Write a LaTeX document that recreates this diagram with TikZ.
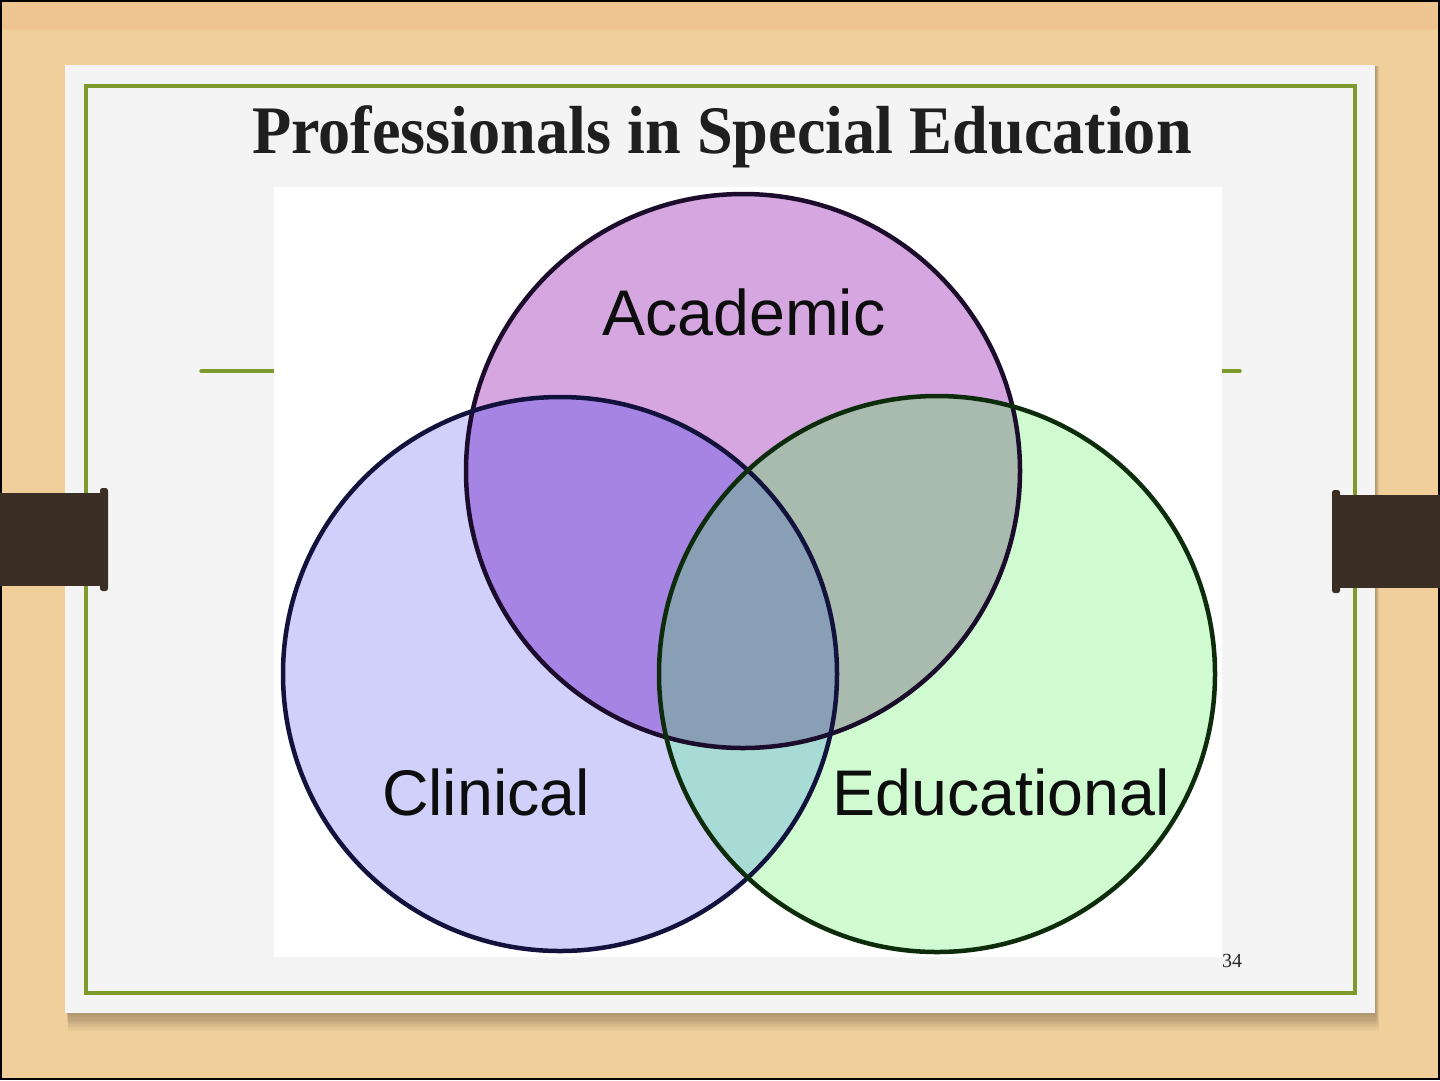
\documentclass[tikz,border=0pt]{standalone}
\usepackage{fontspec}
\setmainfont{Liberation Serif}
\newfontfamily\vennfont{Liberation Sans}
\usetikzlibrary{positioning}
\definecolor{wood}{HTML}{F0CF9B}
\definecolor{woodtop}{HTML}{EEC590}
\definecolor{slidegray}{HTML}{F4F4F4}
\definecolor{framegreen}{HTML}{7E9A2C}
\definecolor{tabbrown}{HTML}{3A2E25}
\definecolor{acadfill}{HTML}{D5A6E0}
\definecolor{clinfill}{HTML}{D0D0FA}
\definecolor{edufill}{HTML}{D0FAD0}
\definecolor{acfill}{HTML}{A584E3}
\definecolor{aefill}{HTML}{A9BAAE}
\definecolor{cefill}{HTML}{A8DAD6}
\definecolor{acefill}{HTML}{889FB6}
\definecolor{acadline}{HTML}{1C0C2C}
\definecolor{clinline}{HTML}{12123C}
\definecolor{eduline}{HTML}{0C2C0C}
\tikzset{%
  % slide parts
  frame/.style={draw=framegreen, line width=3.5pt},
  rule/.style={draw=framegreen, line width=3.5pt, line cap=round},
  tab/.style={fill=tabbrown},
  % venn
  ring/.style={line width=4.5pt},
  setlabel/.style={font=\vennfont\fontsize{64.5}{64.5}\selectfont, anchor=base, text=black!95},
  title/.style={font=\bfseries\fontsize{68}{68}\selectfont, anchor=base, text=black!88},
  pagenum/.style={font=\fontsize{20}{20}\selectfont, anchor=base, text=black!85},
}
\begin{document}
\begin{tikzpicture}[x=1pt, y=-1pt]
  \useasboundingbox (0,0) rectangle (1440,1080);

  % Background
  \fill[wood] (0,0) rectangle (1440,1080);
  \fill[woodtop] (0,0) rectangle (1440,30);
  \draw[black, line width=2pt] (1,1) rectangle (1439,1079);

  % Slide with shadow
  \foreach \i in {1,...,8}
    \fill[black, opacity=0.035] (66+\i*0.3,66) rectangle (1375+\i*0.5,1013+\i*2.2);
  \fill[slidegray] (65,65) rectangle (1375,1013);
  \draw[frame] (86,86) rectangle (1355,993);
  \draw[rule] (201,371) -- (276,371);
  \draw[rule] (1222,371) -- (1240,371);

  % Tabs
  \fill[tab] (0,493) rectangle (105,586);
  \fill[tab, rounded corners=2.5pt] (100,488) rectangle (108,591);
  \fill[tab] (1335,495) rectangle (1440,588);
  \fill[tab, rounded corners=2.5pt] (1332,490) rectangle (1340,593);

  % Title and page number
  \node[title] (title) at (722,153) {\scalebox{0.945}[1]{Professionals in Special Education}};
  \node[pagenum] (page) at (1232,967) {34};

  % Venn panel
  \fill[white] (274,187) rectangle (1222,957);
  \coordinate (cacad) at (743,471);
  \coordinate (cclin) at (560,674);
  \coordinate (cedu) at (937,674);

  \fill[acadfill] (cacad) circle[radius=277];
  \fill[clinfill] (cclin) circle[radius=277];
  \fill[edufill] (cedu) circle[radius=278];
  \begin{scope}
    \clip (cclin) circle[radius=277];
    \fill[cefill] (cedu) circle[radius=278];
  \end{scope}
  \begin{scope}
    \clip (cacad) circle[radius=277];
    \fill[acfill] (cclin) circle[radius=277];
    \fill[aefill] (cedu) circle[radius=278];
    \clip (cclin) circle[radius=277];
    \fill[acefill] (cedu) circle[radius=278];
  \end{scope}

  \draw[ring, acadline] (cacad) circle[radius=277];
  \draw[ring, clinline] (cclin) circle[radius=277];
  \draw[ring, eduline] (cedu) circle[radius=278];

  % Labels
  \node[setlabel] (acad) at (744,335) {Academic};
  \node[setlabel] (clin) at (486,815) {Clinical};
  \node[setlabel] (edu) at (1001,815) {Educational};
\end{tikzpicture}
\end{document}
